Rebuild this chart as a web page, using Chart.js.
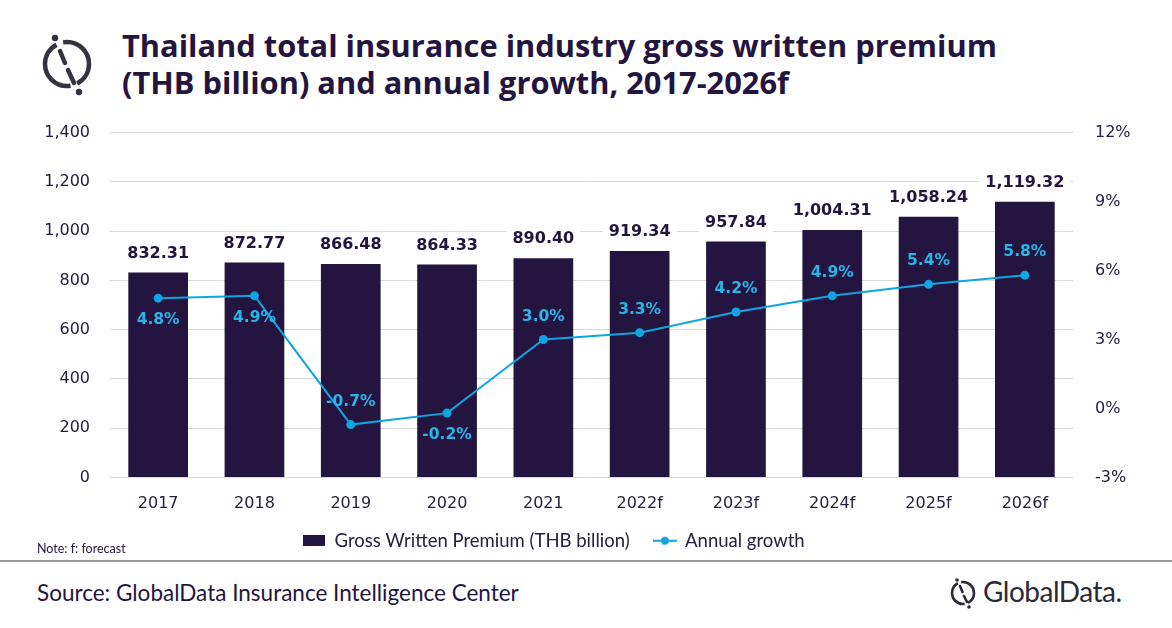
<!DOCTYPE html>
<html lang="en">
<head>
  <meta charset="UTF-8">
  <title>Thailand total insurance industry gross written premium</title>
  <script src="https://cdn.jsdelivr.net/npm/chart.js"></script>
  <style>
    body { margin:0; width:1172px; height:628px; background:#fff; position:relative; overflow:hidden; font-family:Lato, sans-serif; }
    #title { position:absolute; left:122px; top:27px; font-family:"Open Sans", sans-serif; font-weight:bold; font-size:30.8px; line-height:37px; color:#231440; }
    #wrap { position:absolute; left:-32px; top:101px; width:1172px; height:459px; }
    #note { position:absolute; left:37px; top:541px; font-size:12.5px; color:#231440; }
    #rule { position:absolute; left:0; top:560px; width:1172px; height:2px; background:#9a9a9a; }
    #source { position:absolute; left:37px; top:579px; font-size:22.5px; color:#231440; }
    #brand { position:absolute; left:983px; top:574px; font-size:28px; color:#2b2a38; letter-spacing:-0.5px; }
  </style>
</head>
<body>
  <svg style="position:absolute;left:0;top:0" width="120" height="110">
    <circle cx="67" cy="64" r="22" fill="none" stroke="#343341" stroke-width="4.5" stroke-dasharray="23.8 6.9 61.4 6.9 39.2"/>
    <line x1="60" y1="51" x2="65" y2="63" stroke="#343341" stroke-width="4.5" stroke-linecap="round"/>
    <line x1="68" y1="70" x2="74" y2="83" stroke="#343341" stroke-width="4.5" stroke-linecap="round"/>
    <circle cx="55" cy="38" r="3.2" fill="#343341"/>
    <circle cx="79" cy="92" r="3.2" fill="#343341"/>
  </svg>
  <div id="title">Thailand total insurance industry gross written premium<br>(THB billion) and annual growth, 2017-2026f</div>
  <div id="wrap"><canvas id="chart"></canvas></div>
  <div id="note">Note: f: forecast</div>
  <div id="rule"></div>
  <div id="source">Source: GlobalData Insurance Intelligence Center</div>
  <svg style="position:absolute;left:942px;top:570px" width="44" height="48">
    <circle cx="21" cy="23" r="11" fill="none" stroke="#2b2a38" stroke-width="2.6" stroke-dasharray="12 3.5 30.7 3.5 19.4"/>
    <line x1="18" y1="16" x2="20.5" y2="22" stroke="#2b2a38" stroke-width="2.6" stroke-linecap="round"/>
    <line x1="22" y1="26" x2="25" y2="32" stroke="#2b2a38" stroke-width="2.6" stroke-linecap="round"/>
    <circle cx="15" cy="10" r="1.8" fill="#2b2a38"/>
    <circle cx="27" cy="37" r="1.8" fill="#2b2a38"/>
  </svg>
  <div id="brand">GlobalData.</div>
  <script>
    const years = ['2017', '2018', '2019', '2020', '2021', '2022f', '2023f', '2024f', '2025f', '2026f'];
    const premium = [832.31, 872.77, 866.48, 864.33, 890.40, 919.34, 957.84, 1004.31, 1058.24, 1119.32];
    const growth = [4.8, 4.9, -0.7, -0.2, 3.0, 3.3, 4.2, 4.9, 5.4, 5.8];

    const barColor = '#231440';
    const lineColor = '#0ea5e0';
    const textColor = '#262040';
    // where each growth label sits relative to its point
    const growthLabelSide = ['below', 'below', 'above', 'below', 'above', 'above', 'above', 'above', 'above', 'above'];

    // legend symbols
    const barIcon = document.createElement('canvas');
    barIcon.width = 22; barIcon.height = 11;
    let g = barIcon.getContext('2d');
    g.fillStyle = barColor; g.fillRect(0, 0, 22, 11);
    const lineIcon = document.createElement('canvas');
    lineIcon.width = 24; lineIcon.height = 10;
    g = lineIcon.getContext('2d');
    g.strokeStyle = lineColor; g.lineWidth = 2;
    g.beginPath(); g.moveTo(0, 5); g.lineTo(24, 5); g.stroke();
    g.fillStyle = lineColor; g.beginPath(); g.arc(12, 5, 4, 0, Math.PI * 2); g.fill();

    const valueLabels = {
      id: 'valueLabels',
      afterDatasetsDraw(chart) {
        const ctx = chart.ctx;
        ctx.save();
        ctx.textAlign = 'center';
        ctx.textBaseline = 'middle';
        // bar totals with white backing
        ctx.font = 'bold 16px "DejaVu Sans"';
        chart.getDatasetMeta(1).data.forEach((el, i) => {
          const txt = premium[i].toLocaleString('en-US', {minimumFractionDigits: 2});
          const y = el.y - 19;
          const w = ctx.measureText(txt).width;
          ctx.fillStyle = '#fff';
          ctx.fillRect(el.x - w / 2 - 6, y - 11, w + 12, 22);
          ctx.fillStyle = barColor;
          ctx.fillText(txt, el.x, y);
        });
        // growth percentages
        ctx.font = 'bold 15.5px "DejaVu Sans"';
        ctx.fillStyle = '#29b5e8';
        chart.getDatasetMeta(0).data.forEach((el, i) => {
          const y = growthLabelSide[i] === 'below' ? el.y + 22 : el.y - 23;
          ctx.fillText(growth[i].toFixed(1) + '%', el.x, y);
        });
        ctx.restore();
      }
    };

    new Chart(document.getElementById('chart'), {
      data: {
        labels: years,
        datasets: [
          {
            type: 'line',
            label: 'Annual growth',
            data: growth,
            yAxisID: 'y1',
            borderColor: lineColor,
            backgroundColor: lineColor,
            borderWidth: 2,
            pointRadius: 4.5,
            pointBackgroundColor: lineColor,
            pointBorderWidth: 0,
            order: 0
          },
          {
            type: 'bar',
            label: 'Gross Written Premium (THB billion)',
            data: premium,
            yAxisID: 'y',
            backgroundColor: barColor,
            barPercentage: 0.62,
            categoryPercentage: 1,
            order: 1
          }
        ]
      },
      options: {
        responsive: true,
        maintainAspectRatio: false,
        animation: false,
        layout: { padding: { top: 3, bottom: 0 } },
        scales: {
          x: {
            grid: { display: false, drawTicks: false },
            border: { display: false },
            ticks: { color: textColor, padding: 17, font: { family: 'DejaVu Sans', size: 16 } },
            afterFit: s => { s.height = 44; }
          },
          y: {
            position: 'left',
            min: 0, max: 1400,
            grid: { color: '#d9d9d9', drawTicks: false },
            border: { display: false },
            ticks: {
              stepSize: 200, padding: 20, color: textColor,
              font: { family: 'DejaVu Sans', size: 16 },
              callback: v => v.toLocaleString('en-US')
            },
            afterFit: s => { s.width = 142; }
          },
          y1: {
            position: 'right',
            min: -3, max: 12,
            grid: { display: false, drawTicks: false },
            border: { display: false },
            ticks: {
              stepSize: 3, padding: 22, color: textColor,
              font: { family: 'DejaVu Sans', size: 16 },
              callback: v => v + '%'
            },
            afterFit: s => { s.width = 67; }
          }
        },
        plugins: {
          tooltip: { enabled: false },
          legend: {
            position: 'bottom',
            reverse: true,
            labels: {
              usePointStyle: true,
              pointStyleWidth: 22,
              padding: 10,
              color: textColor,
              font: { family: 'Lato', size: 18.5 },
              generateLabels(chart) {
                const items = Chart.defaults.plugins.legend.labels.generateLabels(chart);
                items.forEach(it => {
                  it.pointStyle = it.datasetIndex === 1 ? barIcon : lineIcon;
                  if (it.datasetIndex === 1) it.text += '   ';
                });
                return items;
              }
            }
          }
        }
      },
      plugins: [valueLabels]
    });
  </script>
</body>
</html>
